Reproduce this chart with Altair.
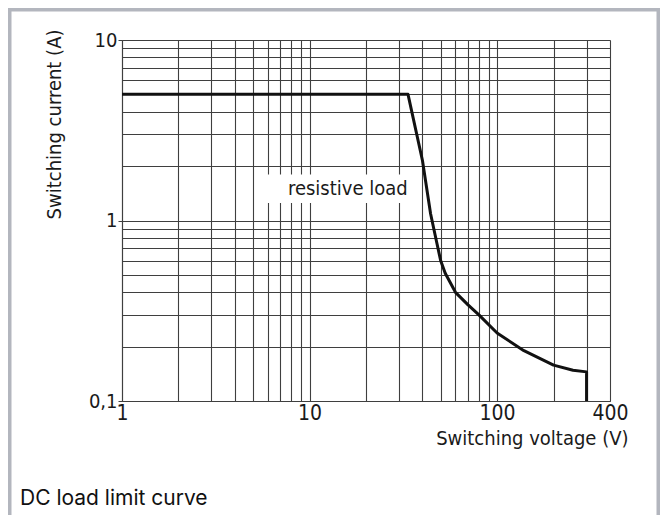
import altair as alt
import pandas as pd

# ---- data ----
voltage = [1, 33.5, 40, 44.2, 47.1, 50, 52.9, 60, 70, 80, 100, 139, 200, 254, 300, 300]
current = [5, 5, 2.15, 1.09, 0.8, 0.6, 0.51, 0.4, 0.341, 0.3, 0.238, 0.19, 0.158, 0.148, 0.145, 0.1]

x_grid = [1, 2, 3, 4, 5, 6, 7, 8, 9, 10, 20, 30, 40, 50, 60, 70, 80, 90, 100, 200, 300, 400]
y_grid = [0.1, 0.2, 0.3, 0.4, 0.5, 0.6, 0.7, 0.8, 0.9, 1, 2, 3, 4, 5, 6, 7, 8, 9, 10]
x_labels = [1, 10, 100, 400]
y_labels = [0.1, 1, 10]

annot_text = ["resistive load"]
annot_x = [16]
annot_y = [1.5]
box_x = [5.3]
box_x2 = [34]
box_y = [1.25]
box_y2 = [1.8]

caption = "DC load limit curve"
x_title = "Switching voltage (V)"
y_title = "Switching current (A)"

NARROW = "Liberation Sans Narrow, DejaVu Sans Condensed, Roboto, sans-serif"
GRID = "#3f3f3f"

curve_df = pd.DataFrame({"v": voltage, "i": current, "k": list(range(len(voltage)))})
annot_df = pd.DataFrame({"t": annot_text, "x": annot_x, "y": annot_y,
                         "bx": box_x, "bx2": box_x2, "by": box_y, "by2": box_y2})

xscale = alt.Scale(type="log", domain=[1, 400], nice=False)
yscale = alt.Scale(type="log", domain=[0.1, 10], nice=False)

x_label_test = " || ".join("datum.value == %s" % v for v in x_labels)
y_label_test = " || ".join("datum.value == %s" % v for v in y_labels)

x_axis = alt.Axis(
    values=x_grid, grid=True, gridColor=GRID, gridWidth=1.1, gridOpacity=1,
    domainColor=GRID, domainWidth=1.1, ticks=False,
    labelExpr="(" + x_label_test + ") ? format(datum.value, 'd') : ''",
    labelFont=NARROW, labelFontSize=21, labelColor="#1a1a1a", labelPadding=1,
    labelFlush=False, labelOverlap=False,
    title=x_title, titleFont=NARROW, titleFontSize=20, titleFontWeight="normal",
    titleColor="#1a1a1a", titleX=506, titleY=37, titleAlign="right",
    titleAnchor="end", titleBaseline="middle",
)
y_axis = alt.Axis(
    values=y_grid, grid=True, gridColor=GRID, gridWidth=1.1, gridOpacity=1,
    domainColor=GRID, domainWidth=1.1, ticks=True, tickSize=4, tickColor=GRID,
    tickOpacity={"condition": {"test": y_label_test, "value": 1}, "value": 0},
    labelExpr="datum.value == 10 ? '10' : datum.value == 1 ? '1' : datum.value == 0.1 ? '0,1' : ''",
    labelFont=NARROW, labelFontSize=20, labelColor="#1a1a1a", labelPadding=1,
    labelFlush=False, labelOverlap=False,
    title=y_title, titleFont=NARROW, titleFontSize=20, titleFontWeight="normal",
    titleColor="#1a1a1a", titleX=-68, titleY=84, titleAngle=-90, titleAlign="center",
    titleBaseline="middle",
)

base = alt.Chart(curve_df)

curve = base.mark_line(color="#111111", strokeWidth=3, strokeJoin="round").encode(
    x=alt.X("v:Q", scale=xscale, axis=x_axis),
    y=alt.Y("i:Q", scale=yscale, axis=y_axis),
    order="k:Q",
)

box = alt.Chart(annot_df).mark_rect(color="white").encode(
    x=alt.X("bx:Q", scale=xscale), x2="bx2:Q",
    y=alt.Y("by:Q", scale=yscale), y2="by2:Q",
)

label = alt.Chart(annot_df).mark_text(
    font=NARROW, fontSize=20, color="#1a1a1a", align="center", baseline="middle"
).encode(
    x=alt.X("x:Q", scale=xscale), y=alt.Y("y:Q", scale=yscale), text="t:N"
)

frame_df = pd.DataFrame({"a": [0]})
frame = alt.Chart(frame_df).mark_rect(
    fillOpacity=0, stroke="#b3b6be", strokeWidth=3.5
).encode(
    x=alt.value(-112.25), x2=alt.value(536.25), y=alt.value(-30.25), y2=alt.value(490)
)

cap = alt.Chart(pd.DataFrame({"c": [caption]})).mark_text(
    font="Inter, Liberation Sans, sans-serif", fontSize=21, color="#111111",
    align="left", baseline="alphabetic"
).encode(x=alt.value(-102), y=alt.value(465), text="c:N")

chart = alt.layer(box, curve, label, frame, cap).properties(
    width=488, height=361,
    autosize=alt.AutoSizeParams(type="none"),
    padding={"left": 114, "top": 32, "right": 50, "bottom": 114},
).configure_view(stroke=GRID, strokeWidth=1.1).configure(background="white")

chart.save("out.html", embed_options={"renderer": "svg", "actions": False})
